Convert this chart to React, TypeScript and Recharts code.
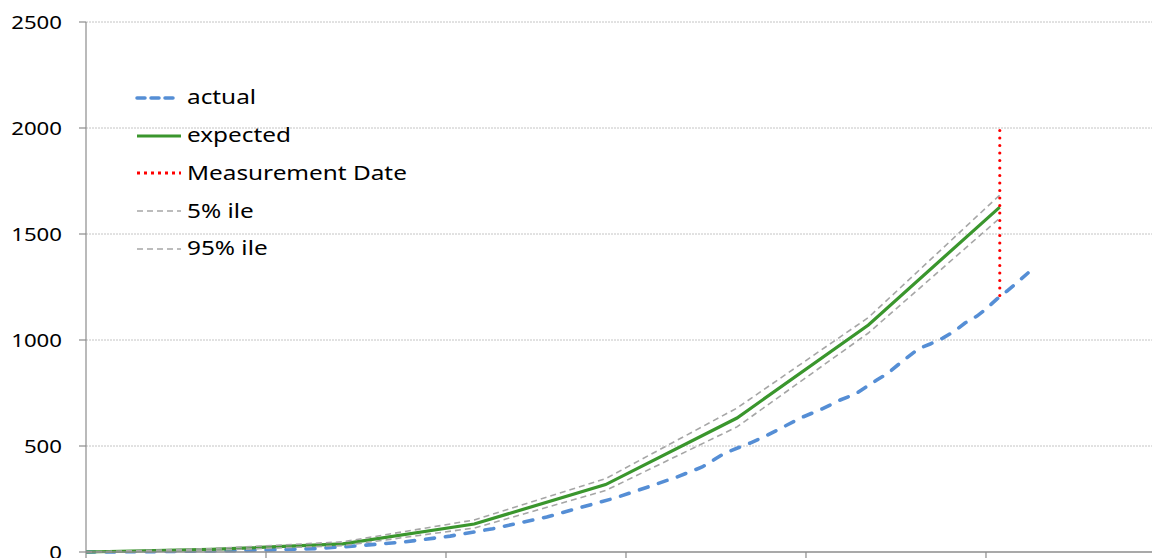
import React from "react";
import { LineChart, Line, XAxis, YAxis, CartesianGrid, Legend } from "recharts";

// Days since start (x) and counts (y)
const expectedDays = [0, 20.9, 42.8, 64.7, 86.6, 108.5, 130.4, 152.3];
const expectedValues = [0, 12, 38, 132, 318, 632, 1071, 1627];
const lowValues = [0, 8, 30, 113, 290, 590, 1033, 1575];
const highValues = [0, 16, 48, 151, 346, 679, 1106, 1684];

const actualDays = [
  0, 7.3, 15.7, 24, 30.7, 38.2, 45.7, 53.2, 60.7, 67.8, 70.3, 76.8, 82.7, 88.2,
  93.7, 98.5, 102.7, 106.5, 110.7, 113.5, 116.5, 119.5, 122.7, 125.7, 128.2,
  130, 131.8, 133.7, 135.3, 138.7, 140.7, 142.8, 144.8, 146.5, 148.5, 150.2,
  151.8, 152.3, 153.5, 155.3, 157,
];
const actualValues = [
  0, 1, 3, 6, 10, 16, 30, 48, 75, 110, 125, 165, 212, 255, 307, 354, 401, 467,
  514, 550, 594, 637, 675, 717, 745, 778, 811, 844, 882, 958, 981, 1009, 1042,
  1080, 1113, 1151, 1193, 1205, 1231, 1274, 1316,
];

const measurementDay = 152.3;
const measurementRange = [1210, 2015];

const yTicks = [0, 500, 1000, 1500, 2000, 2500];
const xTicks = [0, 30, 60, 90, 120, 150];

const legendOrder = ["actual", "expected", "Measurement Date", "5% ile", "95% ile"];

const expectedData = expectedDays.map((d, i) => ({ day: d, value: expectedValues[i] }));
const lowData = expectedDays.map((d, i) => ({ day: d, value: lowValues[i] }));
const highData = expectedDays.map((d, i) => ({ day: d, value: highValues[i] }));
const actualData = actualDays.map((d, i) => ({ day: d, value: actualValues[i] }));
const measurementData = measurementRange.map((v) => ({ day: measurementDay, value: v }));

const FONT = "'Noto Sans', 'Open Sans', sans-serif";

const YTick = (props: any) => {
  const { x, y, payload } = props;
  return (
    <g transform={`translate(${x},${y})`}>
      <text
        transform="scale(1.17,1)"
        textAnchor="end"
        dy="0.38em"
        fontFamily={FONT}
        fontSize={19}
        fill="#000"
      >
        {payload.value}
      </text>
    </g>
  );
};

const EmptyTick = () => <g />;

const LegendSymbol = ({ color, dash, width, cap }: any) => (
  <svg width={48} height={10} style={{ display: "block" }}>
    <line
      x1={2}
      y1={5}
      x2={cap === "round" ? 41 : 46}
      y2={5}
      stroke={color}
      strokeWidth={width}
      strokeDasharray={dash}
      strokeLinecap={cap}
    />
  </svg>
);

const legendStyles: Record<string, any> = {
  actual: { dash: "8 6", width: 3.5, cap: "round" },
  expected: { dash: undefined, width: 3.2, cap: "butt" },
  "Measurement Date": { dash: "3 4", width: 3, cap: "butt" },
  "5% ile": { dash: "6 4", width: 1.5, cap: "butt" },
  "95% ile": { dash: "6 4", width: 1.5, cap: "butt" },
};

const LegendContent = (props: any) => {
  const items = [...(props.payload || [])].sort(
    (a: any, b: any) => legendOrder.indexOf(a.value) - legendOrder.indexOf(b.value)
  );
  return (
    <div style={{ fontFamily: FONT, fontSize: 19, color: "#000" }}>
      {items.map((item: any) => {
        const s = legendStyles[item.value] || {};
        return (
          <div
            key={item.value}
            style={{ display: "flex", alignItems: "center", height: 37.75 }}
          >
            <LegendSymbol color={item.color} dash={s.dash} width={s.width} cap={s.cap} />
            <span
              style={{
                display: "inline-block",
                marginLeft: 4,
                transform: "scaleX(1.28)",
                transformOrigin: "left center",
                whiteSpace: "nowrap",
                lineHeight: "1",
              }}
            >
              {item.value}
            </span>
          </div>
        );
      })}
    </div>
  );
};

export default function App() {
  return (
    <div style={{ position: "absolute", left: 0, top: 0, background: "#fff" }}>
      <LineChart
        width={1152}
        height={558}
        margin={{ top: 22, right: 0, bottom: 0, left: 0 }}
        style={{ fontFamily: FONT }}
      >
        <CartesianGrid
          vertical={false}
          stroke="#c4c4c4"
          strokeDasharray="2 1"
          horizontalValues={[500, 1000, 1500, 2000, 2500]}
        />
        <XAxis
          dataKey="day"
          type="number"
          domain={[0, 177.67]}
          ticks={xTicks}
          interval={0}
          tick={<EmptyTick />}
          tickSize={6}
          height={6}
          allowDataOverflow
          axisLine={{ stroke: "#8c8c8c", strokeWidth: 1.5 }}
          tickLine={{ stroke: "#8c8c8c", strokeWidth: 1.2 }}
        />
        <YAxis
          type="number"
          domain={[0, 2500]}
          ticks={yTicks}
          interval={0}
          width={86}
          tickSize={7}
          tickMargin={17}
          tick={<YTick />}
          axisLine={{ stroke: "#8c8c8c", strokeWidth: 1.2 }}
          tickLine={{ stroke: "#8c8c8c", strokeWidth: 1.2 }}
        />
        <Legend
          layout="vertical"
          align="center"
          verticalAlign="middle"
          content={<LegendContent />}
          wrapperStyle={{ position: "absolute", left: 135, top: 79, width: 300 }}
        />
        <Line
          name="actual"
          data={actualData}
          dataKey="value"
          stroke="#558ED5"
          strokeWidth={3.6}
          strokeDasharray="9 11"
          strokeLinecap="round"
          dot={false}
          activeDot={false}
          isAnimationActive={false}
        />
        <Line
          name="expected"
          data={expectedData}
          dataKey="value"
          stroke="#3A962D"
          strokeWidth={3.2}
          dot={false}
          activeDot={false}
          isAnimationActive={false}
        />
        <Line
          name="5% ile"
          data={lowData}
          dataKey="value"
          stroke="#A6A6A6"
          strokeWidth={1.6}
          strokeDasharray="6 4"
          dot={false}
          activeDot={false}
          isAnimationActive={false}
        />
        <Line
          name="95% ile"
          data={highData}
          dataKey="value"
          stroke="#A6A6A6"
          strokeWidth={1.6}
          strokeDasharray="6 4"
          dot={false}
          activeDot={false}
          isAnimationActive={false}
        />
        <Line
          name="Measurement Date"
          data={measurementData}
          dataKey="value"
          stroke="#FF0000"
          strokeWidth={3.2}
          strokeDasharray="0 7.5"
          strokeLinecap="round"
          dot={false}
          activeDot={false}
          isAnimationActive={false}
        />
      </LineChart>
    </div>
  );
}
